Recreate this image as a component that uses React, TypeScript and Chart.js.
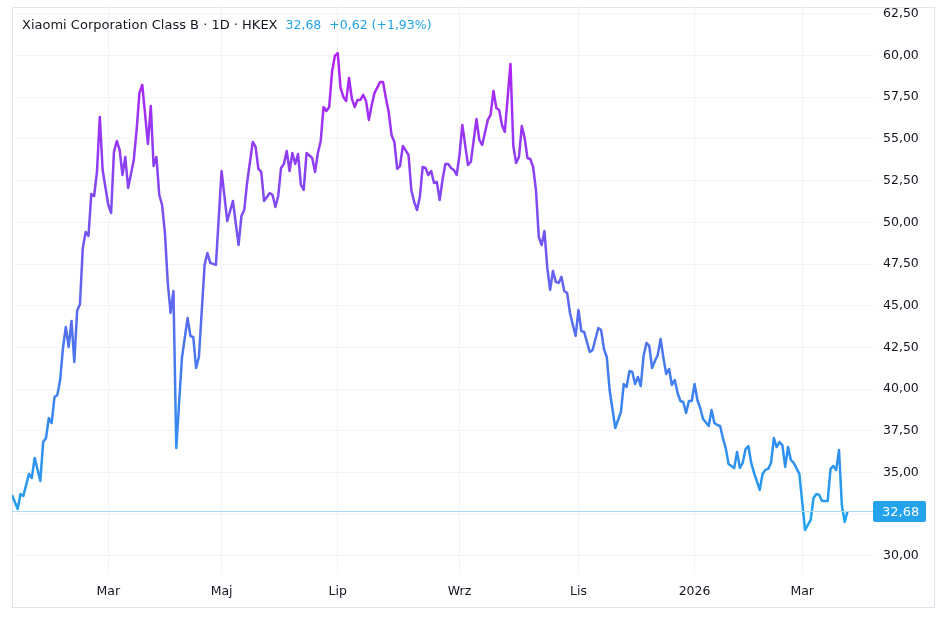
import React, { useEffect, useRef } from 'react';
import { Chart, registerables } from 'chart.js';

Chart.register(...registerables);

// trading-day index (0 = mid Jan 2025) and close price, HKD
const days = [
  0, 2, 3, 4, 6, 7, 8, 10, 11, 12, 13, 14, 15, 16, 17, 18, 19, 20, 21, 22, 23, 24, 25, 26, 27, 28, 29, 30, 31, 32,
  34, 35, 36, 37, 38, 39, 40, 41, 43, 44, 45, 46, 48, 49, 50, 51, 52, 53, 54, 55, 56, 57, 58, 60, 62, 63, 64, 65, 66,
  68, 69, 70, 72, 74, 76, 78, 80, 81, 82, 83, 85, 86, 87, 88, 89, 91, 92, 93, 94, 95, 96, 97, 98, 99, 100, 101, 102,
  103, 104, 106, 107, 108, 109, 110, 111, 112, 113, 114, 115, 116, 117, 118, 119, 120, 121, 122, 123, 124, 125, 126,
  127, 128, 130, 131, 132, 133, 134, 135, 136, 137, 138, 140, 141, 142, 143, 144, 145, 146, 147, 148, 149, 150, 151,
  152, 153, 154, 155, 156, 157, 158, 159, 161, 162, 164, 165, 166, 168, 169, 170, 171, 172, 173, 174, 176, 177, 178,
  179, 180, 181, 182, 183, 184, 185, 186, 187, 188, 189, 190, 191, 192, 193, 194, 195, 196, 197, 199, 200, 201, 202,
  204, 205, 207, 208, 209, 210, 211, 213, 215, 216, 217, 218, 219, 220, 221, 222, 223, 224, 225, 226, 227, 228, 229,
  230, 231, 232, 233, 234, 235, 236, 237, 238, 239, 240, 241, 242, 243, 244, 246, 247, 248, 249, 250, 251, 252, 253,
  255, 256, 257, 258, 259, 260, 261, 262, 264, 265, 266, 267, 268, 269, 270, 271, 272, 273, 274, 275, 276, 278, 280,
  282, 283, 284, 285, 286, 288, 289, 290, 291, 292, 293, 294, 295,
];

const closes = [
  33.66, 32.82, 33.72, 33.6, 34.92, 34.68, 35.88, 34.5, 36.83, 37.07, 38.27, 37.97, 39.53, 39.65, 40.55, 42.47, 43.73,
  42.53, 44.09, 41.63, 44.69, 45.11, 48.46, 49.42, 49.18, 51.7, 51.58, 53.02, 56.32, 53.14,
  51.04, 50.56, 54.22, 54.88, 54.34, 52.84, 53.92, 52.06, 53.74, 55.54, 57.76, 58.24, 54.7, 56.98, 53.38, 53.92, 51.64,
  51.04, 49.36, 46.37, 44.57, 45.89, 36.47, 41.87, 44.27, 43.19, 43.13, 41.27, 41.93,
  47.45, 48.16, 47.57, 47.45, 53.08, 50.08, 51.28, 48.64, 50.38, 50.74, 52.36, 54.82, 54.52, 53.2, 53.02, 51.28, 51.76,
  51.64, 50.92, 51.58, 53.26, 53.5, 54.28, 53.08, 54.16, 53.5, 54.1, 52.24,
  51.94, 54.16, 53.86, 53.02, 54.16, 54.88, 56.92, 56.68, 56.92, 59.02, 59.98, 60.15, 58.06, 57.52, 57.28, 58.66, 57.4,
  56.92, 57.34, 57.34, 57.64, 57.28, 56.14,
  57.04, 57.76, 58.42, 58.42, 57.46, 56.62, 55.24, 54.82, 53.2, 53.38, 54.58, 54.04, 51.94, 51.22, 50.74, 51.52, 53.32,
  53.26, 52.84, 53.08, 52.36, 52.42, 51.34,
  52.54, 53.5, 53.5, 53.26, 53.14, 52.84, 54.04, 55.84, 53.44, 53.62, 56.2, 54.94, 54.64, 56.14, 56.44, 57.88, 56.86,
  56.74, 55.84, 55.42, 59.5, 54.58, 53.56,
  53.92, 55.78, 55.06, 53.86, 53.8, 53.32, 51.94, 49.12, 48.64, 49.48, 47.27, 45.95, 47.09, 46.43, 46.37, 46.73, 45.89,
  45.77, 44.57, 43.19, 44.75, 43.49, 43.43,
  42.23, 42.35, 43.67, 43.55, 42.41, 41.93, 39.95, 37.67, 38.63, 40.31, 40.13, 41.09, 41.03, 40.31, 40.73, 40.19, 41.99,
  42.77, 42.59, 41.27, 41.69, 42.05, 43.01,
  41.87, 40.91, 41.21, 40.25, 40.55, 39.77, 39.29, 39.23, 38.57, 39.29, 39.29, 40.31, 39.35, 38.87, 38.21, 37.79, 38.75,
  37.97, 37.85, 37.79, 37.07, 36.47, 35.52,
  35.28, 36.23, 35.28, 35.58, 36.41, 36.59, 35.58, 34.98, 33.96, 34.92, 35.16, 35.22, 35.58, 37.07, 36.53, 36.83, 36.65,
  35.34, 36.53, 35.76, 35.58, 34.92, 31.56,
  32.16, 33.48, 33.72, 33.66, 33.3, 33.3, 35.22, 35.4, 35.16, 36.35, 33.06, 32.04, 32.68,
];

const monthTickDays = [34, 74, 115, 158, 200, 241, 279];
const monthTickLabels = ['Mar', 'Maj', 'Lip', 'Wrz', 'Lis', '2026', 'Mar'];
const priceTicks = [30, 32.5, 35, 37.5, 40, 42.5, 45, 47.5, 50, 52.5, 55, 57.5, 60, 62.5];

const titleText = 'Xiaomi Corporation Class B · 1D · HKEX';
const lastText = '32,68';
const changeText = '+0,62 (+1,93%)';

const FONT = '"DejaVu Sans", sans-serif';
const TEXT = '#131722';
const BLUE = '#22a3ec';
const PURPLE = '#b41ff4';

const fmt = (v: number) => v.toFixed(2).replace('.', ',');

const overlay = {
  id: 'overlay',
  beforeDraw(chart: any) {
    const ctx = chart.ctx;
    const { left, top } = chart.chartArea;
    const y = chart.scales.y;
    const x = chart.scales.x;
    ctx.save();
    ctx.strokeStyle = '#e0e3eb';
    ctx.lineWidth = 1;
    ctx.strokeRect(left + 0.5, top + 0.5, y.right - left - 1, x.bottom - top);
    ctx.restore();
  },
  afterDatasetsDraw(chart: any) {
    const ctx = chart.ctx;
    const { left, right } = chart.chartArea;
    const last = closes[closes.length - 1];
    const py = Math.round(chart.scales.y.getPixelForValue(last));
    ctx.save();
    // price line (fine dots read as a pale blue rule)
    ctx.fillStyle = '#a9dbf7';
    ctx.fillRect(Math.round(left), py, right - left, 1);
    ctx.fillStyle = BLUE;
    ctx.beginPath();
    ctx.roundRect(right, py - 10, 53, 21, 2);
    ctx.fill();
    ctx.fillStyle = '#ffffff';
    ctx.font = `13px ${FONT}`;
    ctx.textBaseline = 'middle';
    ctx.fillText(fmt(last), right + 9, py + 1.5);

    ctx.font = `13px ${FONT}`;
    ctx.fillStyle = TEXT;
    ctx.fillText(titleText, 22, 26);
    let tx = 22 + ctx.measureText(titleText).width + 8;
    ctx.fillStyle = BLUE;
    ctx.font = `12.5px ${FONT}`;
    ctx.fillText(lastText, tx, 26);
    tx += ctx.measureText(lastText).width + 8;
    ctx.fillText(changeText, tx, 26);
    ctx.restore();
  },
};

const App = () => {
  const canvasRef = useRef<HTMLCanvasElement | null>(null);

  useEffect(() => {
    if (!canvasRef.current) return;
    const points = days.map((d, i) => ({ x: d, y: closes[i] }));

    const chart = new Chart(canvasRef.current, {
      type: 'line',
      data: {
        datasets: [
          {
            data: points,
            borderWidth: 2.5,
            pointRadius: 0,
            tension: 0,
            borderJoinStyle: 'round',
            borderColor: (c: any) => {
              const { chart: ch } = c;
              const ys = ch.scales.y;
              if (!ch.chartArea || !ys) return BLUE;
              const g = ch.ctx.createLinearGradient(0, ys.getPixelForValue(31.5), 0, ys.getPixelForValue(60.2));
              g.addColorStop(0, '#1ea5ef');
              g.addColorStop(0.3, '#3f80ef');
              g.addColorStop(1, PURPLE);
              return g;
            },
          },
        ],
      },
      options: {
        animation: false,
        responsive: false,
        maintainAspectRatio: false,
        layout: { padding: { left: 12, top: 7, right: 13, bottom: 22 } },
        plugins: { legend: { display: false }, tooltip: { enabled: false } },
        scales: {
          x: {
            type: 'linear',
            min: 0,
            max: 304,
            afterBuildTicks: (s: any) => {
              s.ticks = monthTickDays.map((v) => ({ value: v }));
            },
            afterFit: (s: any) => {
              s.height = 34;
              s.paddingLeft = 0;
              s.paddingRight = 0;
            },
            grid: { color: '#f0f3fa', drawTicks: false },
            border: { display: false },
            ticks: {
              padding: 11,
              maxRotation: 0,
              autoSkip: false,
              color: TEXT,
              font: { family: FONT, size: 12.5 },
              callback: (v: any) => monthTickLabels[monthTickDays.indexOf(Number(v))] ?? '',
            },
          },
          y: {
            position: 'right',
            min: 28.98,
            max: 62.91,
            afterBuildTicks: (s: any) => {
              s.ticks = priceTicks.map((v) => ({ value: v }));
            },
            afterFit: (s: any) => {
              s.width = 62;
              s.paddingTop = 0;
              s.paddingBottom = 0;
            },
            grid: { color: '#f0f3fa', drawTicks: false },
            border: { display: false },
            ticks: {
              padding: 10,
              color: TEXT,
              font: { family: FONT, size: 12.5 },
              callback: (v: any) => fmt(Number(v)),
            },
          },
        },
      },
      plugins: [overlay],
    });

    return () => {
      chart.destroy();
    };
  }, []);

  return (
    <div style={{ position: 'fixed', left: 0, top: 0, width: 948, height: 629, background: '#ffffff' }}>
      <canvas ref={canvasRef} width={948} height={629} style={{ width: 948, height: 629 }} />
    </div>
  );
};

export default App;
